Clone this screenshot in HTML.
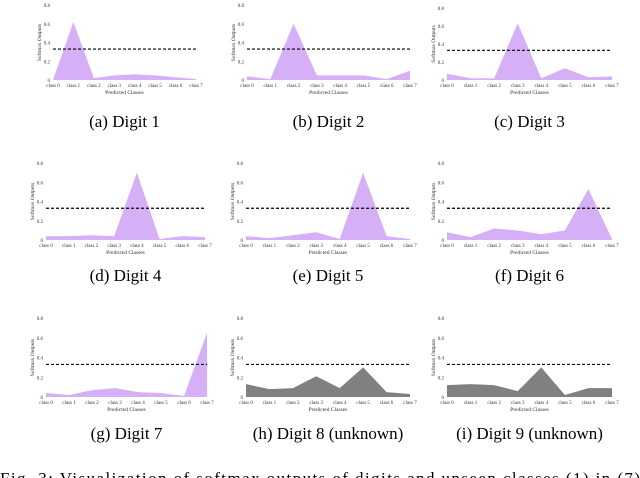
<!DOCTYPE html>
<html><head><meta charset="utf-8"><style>
body{margin:0;background:#fff;width:640px;height:478px;overflow:hidden}
svg{display:block}
</style></head><body>
<svg id="fig" width="640" height="478" font-family="Liberation Serif, serif"></svg>
<script>
const categories=["class 0","class 1","class 2","class 3","class 4","class 5","class 6","class 7"];
const yTicks=[0,0.2,0.4,0.6,0.8];
const threshold=0.33;
const valsA=[0,0.62,0.02,0.05,0.06,0.05,0.03,0.01];
const valsB=[0.04,0.01,0.6,0.05,0.05,0.05,0.01,0.1];
const valsC=[0.07,0.02,0.02,0.63,0.02,0.13,0.03,0.04];
const valsD=[0.04,0.04,0.05,0.04,0.7,0.01,0.04,0.03];
const valsE=[0.04,0.02,0.05,0.08,0.01,0.7,0.04,0.01];
const valsF=[0.08,0.03,0.12,0.1,0.06,0.1,0.53,0.01];
const valsG=[0.04,0.02,0.07,0.09,0.05,0.04,0.01,0.65];
const valsH=[0.13,0.08,0.09,0.21,0.09,0.3,0.05,0.03];
const valsI=[0.12,0.13,0.12,0.06,0.3,0.02,0.09,0.09];
const captions=["(a)  Digit 1","(b)  Digit 2","(c)  Digit 3","(d)  Digit 4","(e)  Digit 5","(f)  Digit 6","(g)  Digit 7","(h)  Digit 8 (unknown)","(i)  Digit 9 (unknown)"];
const panels=[
 {v:valsA,x0:53,x1:196,top:5,base:80,cy:127,c:"#d6b0f7"},
 {v:valsB,x0:247,x1:410,top:5,base:80,cy:127,c:"#d6b0f7"},
 {v:valsC,x0:447,x1:612,top:8,base:80,cy:127,c:"#d6b0f7"},
 {v:valsD,x0:46,x1:205,top:163,base:240,cy:281,c:"#d6b0f7"},
 {v:valsE,x0:246,x1:410,top:163,base:240,cy:281,c:"#d6b0f7"},
 {v:valsF,x0:447,x1:612,top:163,base:240,cy:281,c:"#d6b0f7"},
 {v:valsG,x0:46,x1:207,top:318,base:397,cy:439,c:"#d6b0f7"},
 {v:valsH,x0:246,x1:410,top:318,base:397,cy:439,c:"#808080"},
 {v:valsI,x0:447,x1:612,top:318,base:397,cy:439,c:"#808080"}
];
const NS="http://www.w3.org/2000/svg";
const svg=document.getElementById('fig');
function mk(t,a,p){const e=document.createElementNS(NS,t);for(const k in a)e.setAttribute(k,a[k]);(p||svg).appendChild(e);return e;}
panels.forEach((p,pi)=>{
 const g=mk('g',{});
 
 
 const xs=i=>p.x0+(p.x1-p.x0)*i/(categories.length-1);
 const ys=v=>p.base-(p.base-p.top)*v/0.8;
 let d='M'+xs(0)+','+p.base;
 p.v.forEach((v,i)=>{d+=' L'+xs(i)+','+ys(v);});
 d+=' L'+xs(p.v.length-1)+','+p.base+' Z';
 const area=mk('path',{d:d,fill:p.c},g);
 
 
 const th=mk('line',{x1:p.x0,x2:p.x1,y1:ys(threshold),y2:ys(threshold),stroke:'#000','stroke-width':1.2,'stroke-dasharray':'3,2'},g);
 
 
 yTicks.forEach(t=>{
  const tx=mk('text',{x:p.x0-3,y:ys(t)+2,'font-size':5,'text-anchor':'end',fill:'#333'},g);
  tx.textContent=t===0?'0':t.toFixed(1);
  
  
 });
 categories.forEach((c,i)=>{
  const tx=mk('text',{x:xs(i),y:p.base+7,'font-size':5,'text-anchor':'middle',fill:'#333'},g);
  tx.textContent=c;
  
  
 });
 const xt=mk('text',{x:(p.x0+p.x1)/2,y:p.base+14,'font-size':5.5,'text-anchor':'middle',fill:'#333'},g);
 xt.textContent='Predicted Classes';
 
 
 const yx=p.x0-12, yy=(p.top+p.base)/2;
 const yt=mk('text',{x:yx,y:yy,'font-size':5.5,'text-anchor':'middle',fill:'#333',transform:'rotate(-90 '+yx+' '+yy+')'},g);
 yt.textContent='Softmax Outputs';
 
 
 const cap=mk('text',{x:(p.x0+p.x1)/2,y:p.cy,'font-size':17,'text-anchor':'middle',fill:'#000'},g);
 cap.textContent=captions[pi];
 
 
});
const fc=mk('text',{x:0,y:484,'font-size':17,fill:'#000',textLength:640,lengthAdjust:'spacing'});
fc.textContent='Fig. 3:  Visualization of softmax outputs of digits and unseen classes (1) in (7)';


</script>
</body></html>
